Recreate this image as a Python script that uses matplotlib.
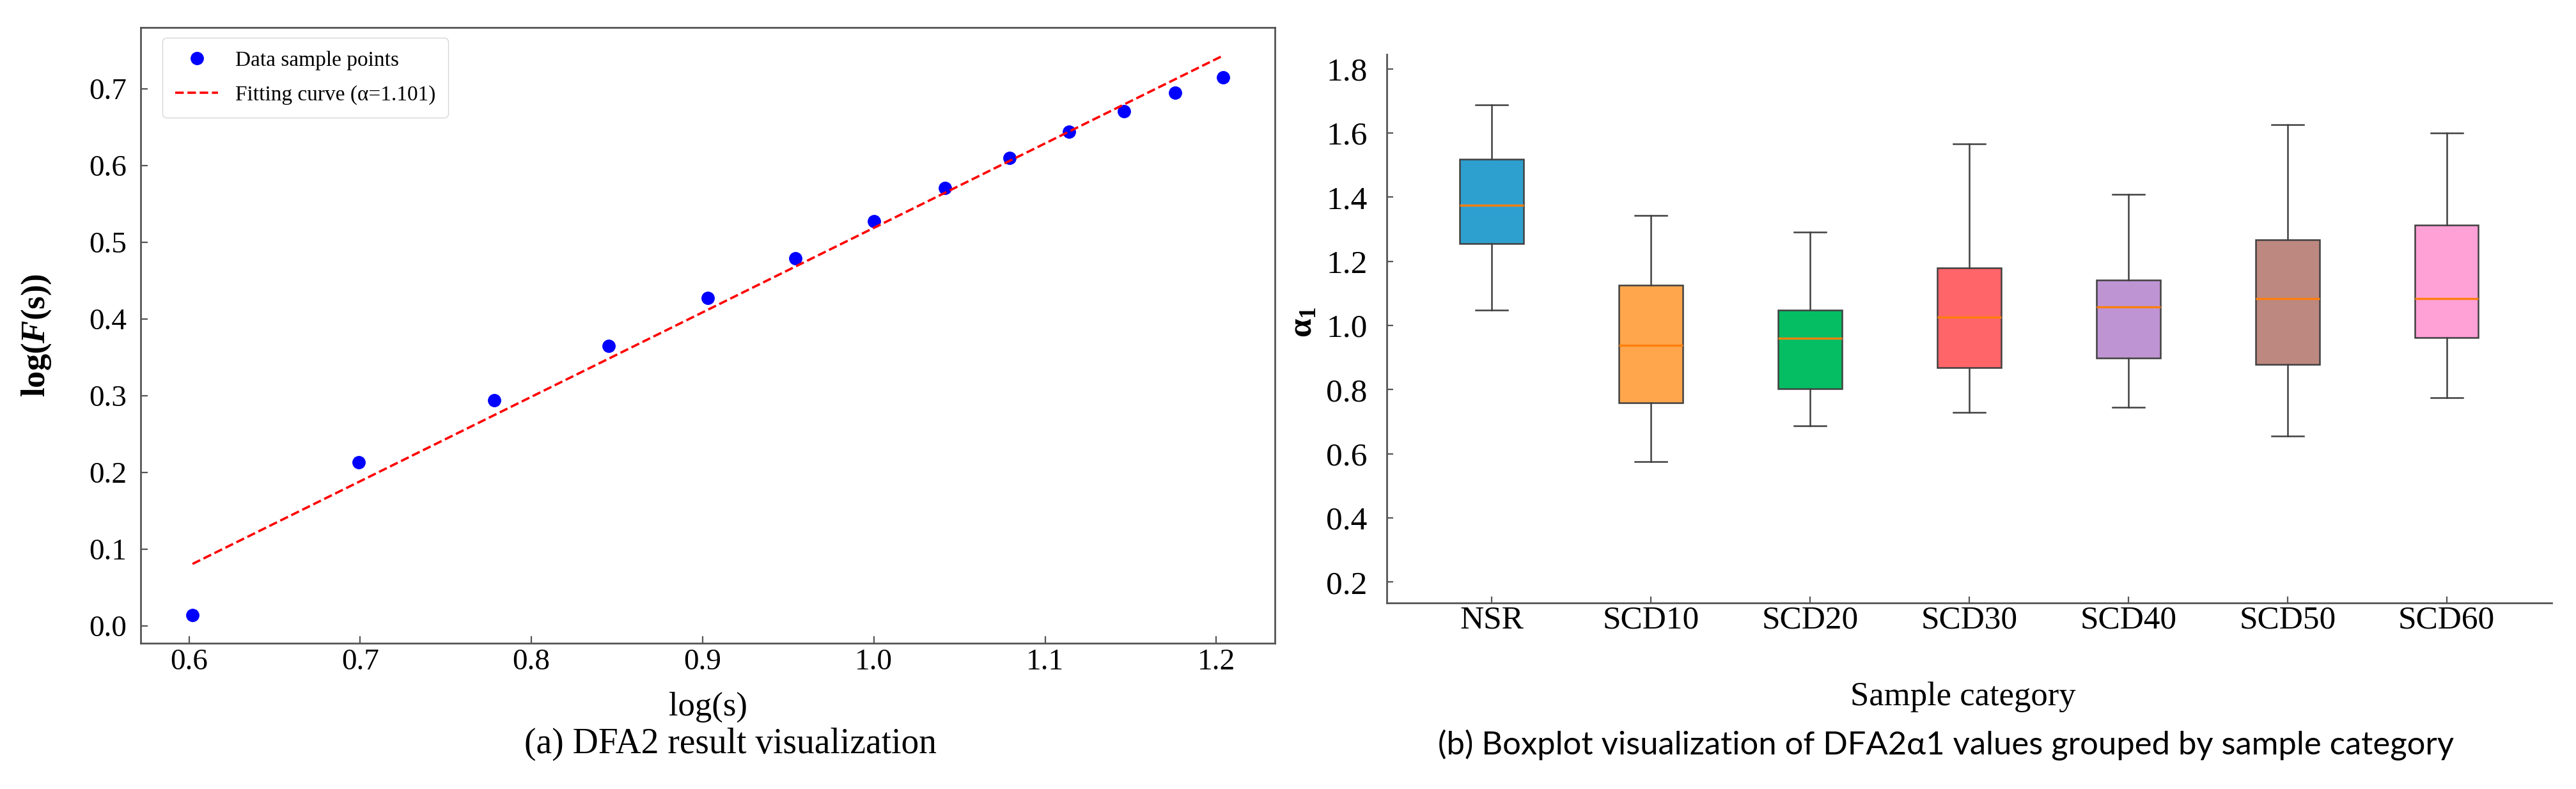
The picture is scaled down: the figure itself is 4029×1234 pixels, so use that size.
import numpy as np
import matplotlib.pyplot as plt

plt.rcParams['font.family'] = ['Liberation Serif', 'DejaVu Serif']
plt.rcParams['mathtext.fontset'] = 'custom'
plt.rcParams['mathtext.rm'] = 'Liberation Serif'
plt.rcParams['mathtext.it'] = 'Liberation Serif:italic:bold'
plt.rcParams['mathtext.bf'] = 'Liberation Serif:bold'

# (a) DFA2 data, s = 4..16
log_s = [0.60206, 0.69897, 0.77815, 0.84510, 0.90309, 0.95424, 1.0,
         1.04139, 1.07918, 1.11394, 1.14613, 1.17609, 1.20412]
log_F = [0.014, 0.213, 0.294, 0.365, 0.428, 0.479, 0.528,
         0.571, 0.610, 0.644, 0.671, 0.695, 0.715]
alpha_fit = 1.101
intercept_fit = -0.582

# (b) boxplot stats
categories = ['NSR', 'SCD10', 'SCD20', 'SCD30', 'SCD40', 'SCD50', 'SCD60']
whis_lo = [1.048, 0.575, 0.687, 0.728, 0.745, 0.655, 0.775]
q1 = [1.255, 0.759, 0.803, 0.868, 0.899, 0.879, 0.962]
med = [1.375, 0.938, 0.961, 1.025, 1.058, 1.084, 1.084]
q3 = [1.519, 1.125, 1.048, 1.179, 1.141, 1.267, 1.312]
whis_hi = [1.687, 1.343, 1.290, 1.566, 1.408, 1.626, 1.600]
box_colors = ['#2EA0D0', '#FFA64D', '#05BE64', '#FF6569', '#BE94D3', '#BC8880', '#FFA0D7']

fig = plt.figure(figsize=(40.3, 12.34), dpi=100)

# ---- left panel
ax1 = fig.add_axes([0.05471, 0.18477, 0.44007, 0.78039])
x = np.array(log_s)
ax1.plot(x, log_F, 'o', color='blue', markersize=14, label='Data sample points')
ax1.plot(x, alpha_fit * x + intercept_fit, '--', color='red', linewidth=2.6,
         label='Fitting curve (α=1.101)')
ax1.set_xticks([0.6, 0.7, 0.8, 0.9, 1.0, 1.1, 1.2])
ax1.set_yticks([0.0, 0.1, 0.2, 0.3, 0.4, 0.5, 0.6, 0.7])
ax1.xaxis.set_major_formatter(plt.FormatStrFormatter('%.1f'))
ax1.yaxis.set_major_formatter(plt.FormatStrFormatter('%.1f'))
ax1.tick_params(direction='in', length=8, width=1.6, color='#555555', labelsize=34)
ax1.tick_params(axis='y', pad=16)
ax1.tick_params(axis='x', pad=6)
for sp in ax1.spines.values():
    sp.set_color('#555555')
    sp.set_linewidth(2.0)
ax1.set_xlabel('log(s)', fontsize=38, va='center')
ax1.xaxis.set_label_coords(0.5, -0.104)
ax1.set_ylabel(r'log($F$(s))', fontsize=38, fontweight='bold', va='center')
ax1.yaxis.set_label_coords(-0.092, 0.5)
ax1.legend(loc='upper left', bbox_to_anchor=(0.019, 0.983), borderaxespad=0,
           fontsize=24, handlelength=2.0, borderpad=0.6, labelspacing=0.7)
fig.text(0.2836, 0.0567, '(a) DFA2 result visualization', fontsize=40,
         ha='center', va='center')

# ---- right panel
ax2 = fig.add_axes([0.53821, 0.23582, 0.45211, 0.69530])
stats = []
for i, c in enumerate(categories):
    stats.append({'label': c, 'whislo': whis_lo[i], 'q1': q1[i], 'med': med[i],
                  'q3': q3[i], 'whishi': whis_hi[i], 'fliers': []})
bp = ax2.bxp(stats, positions=range(1, len(categories) + 1), widths=0.4,
             patch_artist=True, showfliers=False,
             boxprops=dict(edgecolor='#404040', linewidth=1.8),
             whiskerprops=dict(color='#404040', linewidth=1.8),
             capprops=dict(color='#404040', linewidth=1.8),
             medianprops=dict(color='#FF7F0E', linewidth=2.4))
for patch, col in zip(bp['boxes'], box_colors):
    patch.set_facecolor(col)
ax2.set_xlim(0.34, 7.66)
ax2.set_ylim(0.135, 1.845)
ax2.set_yticks([0.2, 0.4, 0.6, 0.8, 1.0, 1.2, 1.4, 1.6, 1.8])
ax2.yaxis.set_major_formatter(plt.FormatStrFormatter('%.1f'))
ax2.spines['top'].set_visible(False)
ax2.spines['right'].set_visible(False)
for sp in ['left', 'bottom']:
    ax2.spines[sp].set_color('#555555')
    ax2.spines[sp].set_linewidth(2.0)
ax2.tick_params(direction='in', length=7, width=1.6, color='#555555', labelsize=37)
ax2.tick_params(axis='y', pad=22)
ax2.tick_params(axis='x', pad=3)
ax2.set_xlabel('Sample category', fontsize=38, va='center')
ax2.xaxis.set_label_coords(0.4945, -0.171)
ax2.set_ylabel(r'α$_\mathbf{1}$', fontsize=38, fontweight='bold', va='center')
ax2.yaxis.set_label_coords(-0.0714, 0.512)
fig.text(0.7551, 0.0559,
         '(b) Boxplot visualization of DFA2α1 values grouped by sample category',
         fontsize=36.5, family=['Lato', 'DejaVu Sans'], ha='center', va='center')

fig.savefig('out.png', dpi=100, facecolor='white')
